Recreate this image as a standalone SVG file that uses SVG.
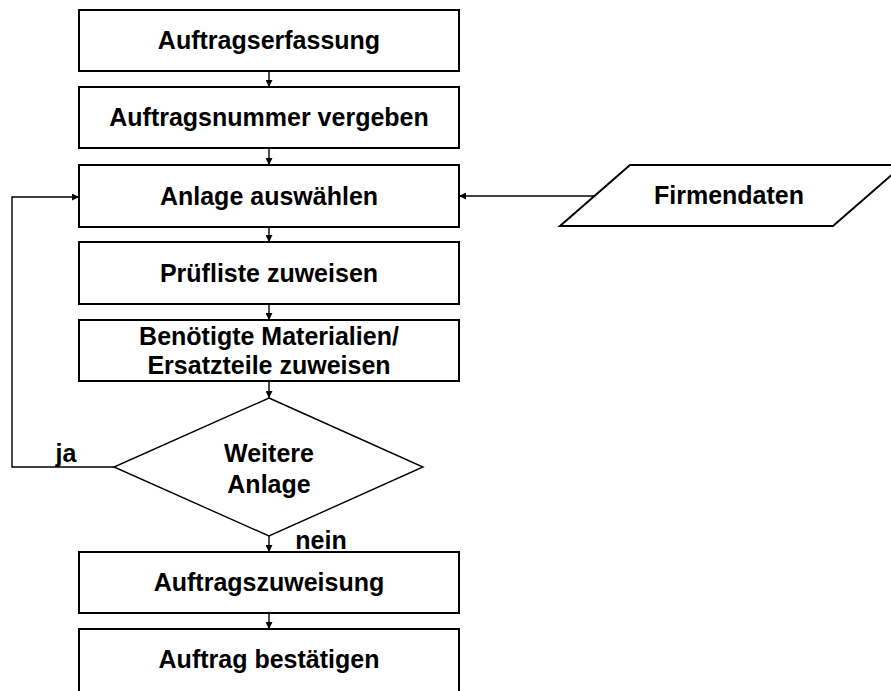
<svg xmlns="http://www.w3.org/2000/svg" width="891" height="691" viewBox="0 0 891 691">
<style>
.box{fill:#fff;stroke:#000;stroke-width:2}
.lbl{font-family:"Liberation Sans",Arial,sans-serif;font-weight:bold;font-size:25px;fill:#000;text-anchor:middle}
.con{fill:none;stroke:#000;stroke-width:1.4}
</style>
<defs>
<marker id="ah" viewBox="0 0 10 10" refX="10" refY="5" markerWidth="7" markerHeight="7" markerUnits="userSpaceOnUse" orient="auto">
<path d="M0,0 L10,5 L0,10 z" fill="#000"/>
</marker>
</defs>
<rect width="891" height="691" fill="#fff"/>
<g id="n1"><rect class="box" x="79" y="10" width="380" height="61"/><text class="lbl" x="269" y="49">Auftragserfassung</text></g>
<g id="n2"><rect class="box" x="79" y="87" width="380" height="61"/><text class="lbl" x="269" y="126">Auftragsnummer vergeben</text></g>
<g id="n3"><rect class="box" x="79" y="165" width="380" height="62"/><text class="lbl" x="269" y="205">Anlage auswählen</text></g>
<g id="n4"><rect class="box" x="79" y="242" width="380" height="62"/><text class="lbl" x="269" y="282">Prüfliste zuweisen</text></g>
<g id="n5"><rect class="box" x="79" y="320" width="380" height="61"/><text class="lbl" x="269" y="345">Benötigte Materialien/</text><text class="lbl" x="269" y="374">Ersatzteile zuweisen</text></g>
<g id="n6"><polygon class="box" style="stroke-width:1.4" points="269,398 423,467 269,536 114,467"/><text class="lbl" x="269" y="462">Weitere</text><text class="lbl" x="269" y="493">Anlage</text></g>
<g id="n7"><rect class="box" x="79" y="552" width="380" height="61"/><text class="lbl" x="269" y="591">Auftragszuweisung</text></g>
<g id="n8"><rect class="box" x="79" y="629" width="380" height="66"/><text class="lbl" x="269" y="668">Auftrag bestätigen</text></g>
<g id="n9"><polygon class="box" points="630,165 903,165 833,226 560,226"/><text class="lbl" x="729" y="204">Firmendaten</text></g>
<g id="connectors">
<line class="con" x1="269" y1="71" x2="269" y2="87" marker-end="url(#ah)"/>
<line class="con" x1="269" y1="148" x2="269" y2="165" marker-end="url(#ah)"/>
<line class="con" x1="269" y1="227" x2="269" y2="242" marker-end="url(#ah)"/>
<line class="con" x1="269" y1="304" x2="269" y2="320" marker-end="url(#ah)"/>
<line class="con" x1="269" y1="381" x2="269" y2="398" marker-end="url(#ah)"/>
<line class="con" x1="269" y1="536" x2="269" y2="552" marker-end="url(#ah)"/>
<line class="con" x1="269" y1="613" x2="269" y2="629" marker-end="url(#ah)"/>
<line class="con" x1="594" y1="196" x2="459" y2="196" marker-end="url(#ah)"/>
<polyline class="con" points="114,467 12,467 12,197 79,197" marker-end="url(#ah)"/>
<text class="lbl" x="66" y="462">ja</text>
<text class="lbl" x="321" y="549">nein</text>
</g>
</svg>
